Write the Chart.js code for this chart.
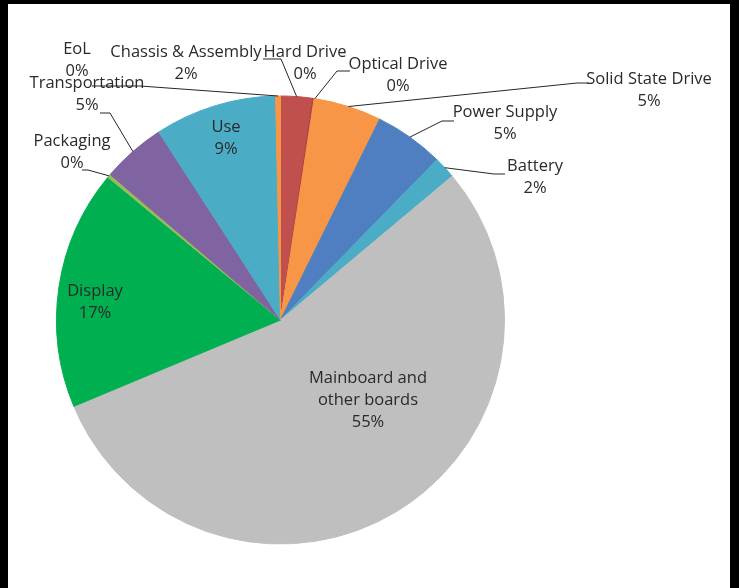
<!DOCTYPE html>
<html>
<head>
<meta charset="utf-8">
<script src="https://cdn.jsdelivr.net/npm/chart.js@4/dist/chart.umd.min.js"></script>
<style>
  html, body { margin: 0; padding: 0; background: #000; width: 739px; height: 588px; overflow: hidden; }
  #frame { position: absolute; left: 8px; top: 4px; width: 722px; height: 584px; background: #fff; }
  canvas { display: block; }
</style>
</head>
<body>
<div id="frame"><canvas id="c" width="722" height="584"></canvas></div>
<script>
// ---- data ----
const categories = ['Chassis & Assembly', 'Hard Drive', 'Optical Drive', 'Solid State Drive', 'Power Supply',
  'Battery', 'Mainboard and other boards', 'Display', 'Packaging', 'Transportation', 'Use', 'EoL'];
const shares = [2.3, 0.1, 0.1, 4.8, 5.0, 1.6, 54.8, 17.3, 0.25, 4.6, 8.8, 0.35];
const colors = ['#C0504D', '#B0403D', '#F79646', '#F79646', '#4F7FC0', '#4BACC6',
  '#BFBFBF', '#00B050', '#9BBB59', '#8064A2', '#4BACC6', '#F79646'];

// ---- label layout (offsets from pie centre, px) ----
const labelLines = [
  ['Chassis & Assembly'], ['Hard Drive'], ['Optical Drive'], ['Solid State Drive'], ['Power Supply'],
  ['Battery'], ['Mainboard and', 'other boards'], ['Display'], ['Packaging'], ['Transportation'], ['Use'], ['EoL']
];
const labelOffsets = [
  [-94.5, -257], [24.5, -257], [117.5, -245], [368.5, -229.5], [224.5, -196.5],
  [254.5, -142.5], [87.5, 80], [-185.5, -18], [-208.5, -168], [-193.5, -226], [-54.5, -182], [-203.5, -260]
];
// leader line start + elbow (offsets from centre); null = no leader
const leaders = [
  [[-17.5, -261], [0.5, -261]],
  null,
  [[69.5, -249], [56.5, -249]],
  [[307.5, -237], [296.5, -237]],
  [[173.5, -199], [161.5, -199]],
  [[224.5, -146], [213.5, -146]],
  null, null,
  [[-198.5, -150], [-192.5, -150]],
  [[-180.5, -207], [-170.5, -207]],
  null,
  [[-188.5, -234], [-140.5, -234]]
];

const FONT = '16.5px "Open Sans", "Noto Sans", sans-serif';
const TEXT = '#2a2a2a';
const LINE_H = 22;

const labelPlugin = {
  id: 'excelLabels',
  afterDatasetsDraw(chart) {
    const ctx = chart.ctx;
    const meta = chart.getDatasetMeta(0);
    const data = chart.data.datasets[0].data;
    const total = data.reduce((a, b) => a + b, 0);
    ctx.save();
    meta.data.forEach((arc, i) => {
      const p = arc.getProps(['x', 'y', 'startAngle', 'endAngle', 'outerRadius'], true);
      const cx = p.x, cy = p.y;
      const mid = (p.startAngle + p.endAngle) / 2;
      const ax = cx + p.outerRadius * Math.cos(mid);
      const ay = cy + p.outerRadius * Math.sin(mid);
      const L = leaders[i];
      if (L) {
        ctx.beginPath();
        ctx.strokeStyle = '#262626';
        ctx.lineWidth = 1;
        ctx.moveTo(cx + L[0][0], cy + L[0][1]);
        ctx.lineTo(cx + L[1][0], cy + L[1][1]);
        ctx.lineTo(ax, ay);
        ctx.stroke();
      }
      const pct = Math.round(data[i] / total * 100) + '%';
      const lines = labelLines[i].concat([pct]);
      const lx = cx + labelOffsets[i][0];
      const ly = cy + labelOffsets[i][1];
      ctx.font = FONT;
      ctx.fillStyle = TEXT;
      ctx.textAlign = 'center';
      ctx.textBaseline = 'middle';
      const top = ly - (lines.length - 1) * LINE_H / 2;
      lines.forEach((t, k) => ctx.fillText(t, lx, top + k * LINE_H));
    });
    ctx.restore();
  }
};

new Chart(document.getElementById('c'), {
  type: 'pie',
  data: {
    labels: categories,
    datasets: [{
      data: shares,
      backgroundColor: colors,
      borderColor: colors,
      borderWidth: 1,
      hoverOffset: 0,
      offset: 0
    }]
  },
  options: {
    responsive: false,
    animation: false,
    events: [],
    layout: { padding: { left: 48, right: 225, top: 91.5, bottom: 43.5 } },
    plugins: { legend: { display: false }, tooltip: { enabled: false } }
  },
  plugins: [labelPlugin]
});
</script>
</body>
</html>
